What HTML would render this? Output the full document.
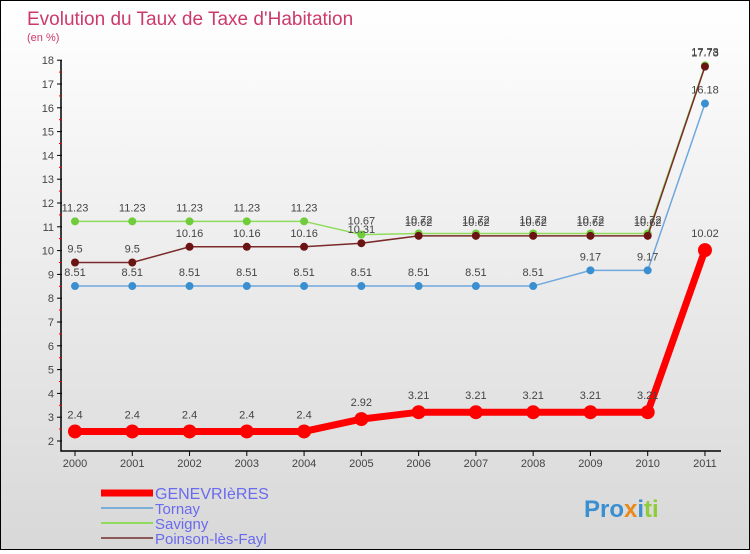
<!DOCTYPE html>
<html><head><meta charset="utf-8"><style>
body{margin:0}
#c{width:748px;height:548px;border:1px solid #000;background:linear-gradient(#fff,#d8d8d8);position:relative;font-family:"Liberation Sans",sans-serif}
svg text{font-family:"Liberation Sans",sans-serif}
</style></head><body>
<div id="c">
<svg id="s" width="748" height="548">
<text x="26" y="24" font-size="19" fill="#cc3a6a">Evolution du Taux de Taxe d'Habitation</text>
<text x="26" y="40" font-size="11" fill="#cc3a6a">(en %)</text>
</svg>
</div>
<script>
const years=[2000,2001,2002,2003,2004,2005,2006,2007,2008,2009,2010,2011];
const genevrieres=[2.4,2.4,2.4,2.4,2.4,2.92,3.21,3.21,3.21,3.21,3.21,10.02];
const tornay=[8.51,8.51,8.51,8.51,8.51,8.51,8.51,8.51,8.51,9.17,9.17,16.18];
const savigny=[11.23,11.23,11.23,11.23,11.23,10.67,10.72,10.72,10.72,10.72,10.72,17.78];
const poinson=[9.5,9.5,10.16,10.16,10.16,10.31,10.62,10.62,10.62,10.62,10.62,17.73];
const yTicks=[2,3,4,5,6,7,8,9,10,11,12,13,14,15,16,17,18];
const s=document.getElementById('s');const NS='http://www.w3.org/2000/svg';
function X(i){return 74+i*57.27;}
function Y(v){return 440-(v-2)*23.8;}
function el(t,a,p){const e=document.createElementNS(NS,t);for(const k in a)e.setAttribute(k,a[k]);(p||s).appendChild(e);return e;}
const ax=el('path',{d:`M60 59V450H720`,stroke:'#000',fill:'none','stroke-width':1.5});


yTicks.forEach(v=>{
 el('line',{x1:56,x2:61,y1:Y(v),y2:Y(v),stroke:'#000'});
 if(v<18)el('line',{x1:58,x2:61,y1:Y(v+0.5),y2:Y(v+0.5),stroke:'#e00'});
 const t=el('text',{x:53,y:Y(v)+4,'font-size':11,fill:'#444','text-anchor':'end'});t.textContent=v;
 
 
});
years.forEach((y,i)=>{
 el('line',{x1:X(i),x2:X(i),y1:450,y2:455,stroke:'#000'});
 const t=el('text',{x:X(i),y:466,'font-size':11,fill:'#444','text-anchor':'middle'});t.textContent=y;
 
 
});
function series(data,col,dot,w,r,name){
 const g=el('g',{});
 
 
 el('polyline',{points:data.map((v,i)=>X(i)+','+Y(v)).join(' '),fill:'none',stroke:col,'stroke-width':w},g);
 data.forEach((v,i)=>{
  const c=el('circle',{cx:X(i),cy:Y(v),r:r,fill:dot},g);
  
  
  const t=el('text',{x:X(i),y:Y(v)-(r+6),'font-size':11,fill:'#444','text-anchor':'middle'},g);t.textContent=v;
 });
}
series(tornay,'#6fa8dc','#3a8fd0',1.5,4,'series-tornay');
series(savigny,'#8fdc5c','#6fcc3a',1.5,4,'series-savigny');
series(poinson,'#7a2a2a','#6a1414',1.5,4,'series-poinson');
series(genevrieres,'#f00','#f00',7,7,'series-genevrieres');
const leg=[['GENEVRIèRES','#f00',7],['Tornay','#7aaed6',2],['Savigny','#8fdc5c',2],['Poinson-lès-Fayl','#8a5a5a',2]];
leg.forEach((l,i)=>{
 const y=492+i*15;
 const g=el('g',{});
 
 
 el('line',{x1:100,x2:152,y1:y,y2:y,stroke:l[1],'stroke-width':l[2]},g);
 const t=el('text',{x:154,y:y+6,'font-size':i==0?16:15,fill:'#6a6aee'},g);t.textContent=l[0];
});
const p=el('text',{x:583,y:516,'font-size':24,'font-weight':'bold',fill:'#3a8fd0'});


p.innerHTML='<tspan fill="#3a8fd0">Pro</tspan><tspan fill="#e88a1a">x</tspan><tspan fill="#3a8fd0">i</tspan><tspan fill="#8fcc3a">ti</tspan>';
</script>
</body></html>
